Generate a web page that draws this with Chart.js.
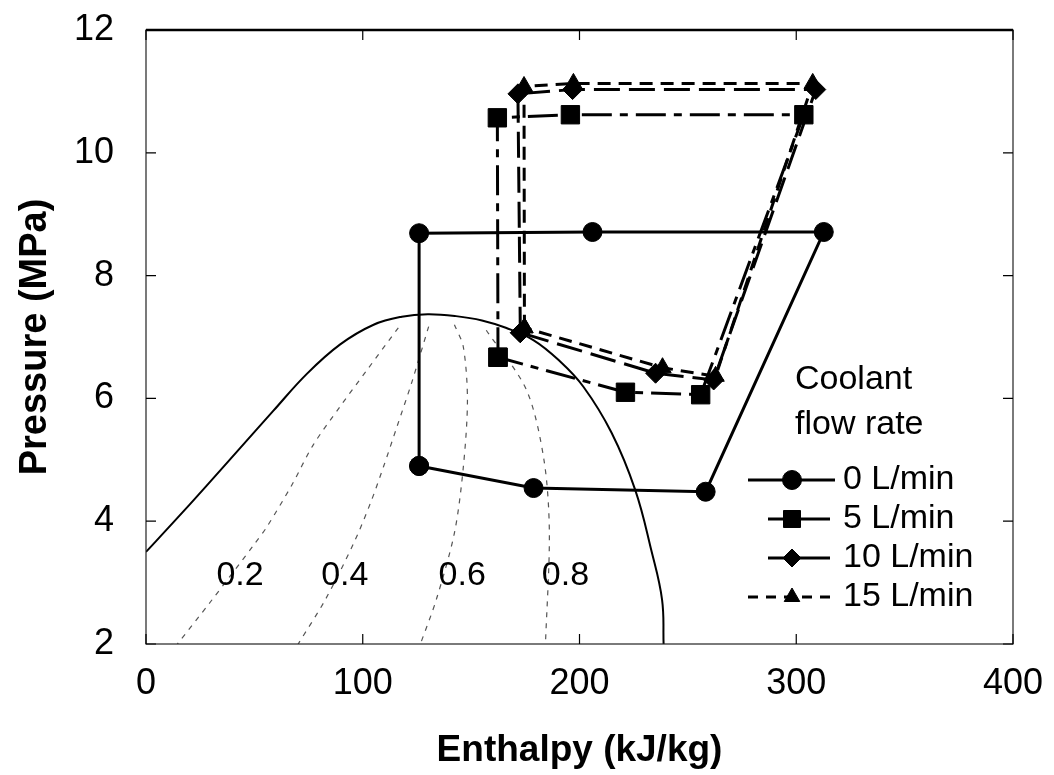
<!DOCTYPE html>
<html lang="en">
<head>
<meta charset="UTF-8">
<title>Pressure - Enthalpy cycle</title>
<script src="https://cdn.jsdelivr.net/npm/chart.js"></script>
<style>
  html, body { margin: 0; padding: 0; background: #fff; }
  #wrap { width: 1054px; height: 775px; }
</style>
</head>
<body>
<div id="wrap"><canvas id="chart"></canvas></div>
<script>
// cycle points: enthalpy (kJ/kg) and pressure (MPa), loop closed back on the first point
const h0 = [126, 126, 206, 312.7, 258.2, 178.8, 126];
const p0 = [4.90, 8.69, 8.71, 8.71, 4.48, 4.54, 4.90];
const h5 = [162.4, 162.1, 195.8, 303.5, 255.9, 221.2, 162.4];
const p5 = [6.67, 10.57, 10.62, 10.62, 6.06, 6.10, 6.67];
const h10 = [172.7, 171.6, 196.8, 309, 261.9, 235.1, 172.7];
const p10 = [7.07, 10.96, 11.03, 11.03, 6.30, 6.41, 7.07];
const h15 = [174.6, 174.4, 197.2, 307.6, 262.8, 238.3, 174.6];
const p15 = [7.15, 11.08, 11.13, 11.13, 6.36, 6.50, 7.15];

// saturation dome
const domeH = [0, 12.6, 28, 43.4, 58.8, 74.2, 89.6, 105, 118, 130, 143, 155, 166, 178.7, 190.5, 201.8, 214.8, 225.7, 233.1, 238.1, 238.8];
const domeP = [3.5, 3.98, 4.58, 5.19, 5.8, 6.4, 6.88, 7.2, 7.33, 7.37, 7.34, 7.27, 7.15, 6.95, 6.62, 6.19, 5.44, 4.51, 3.53, 2.72, 2.0];

// constant quality lines
const q2H = [116.4, 101.9, 89.6, 77.1, 67.3, 55.8, 50.3, 29.6, 14.5];
const q2P = [7.15, 6.46, 5.87, 5.24, 4.59, 3.91, 3.64, 2.68, 2.0];
const q4H = [130.4, 122.7, 115.8, 109.6, 103.5, 95.8, 82.7, 70.2];
const q4P = [7.17, 6.27, 5.54, 4.89, 4.29, 3.64, 2.72, 2.0];
const q6H = [142.3, 146.4, 148.3, 146.4, 142.3, 133.9, 126.6];
const q6P = [7.2, 6.84, 5.97, 4.88, 3.81, 2.72, 2.0];
const q8H = [157, 175.5, 183.6, 186.1, 184.3];
const q8P = [7.11, 6.14, 5.0, 3.81, 2.0];

const qualityLabels = ['0.2', '0.4', '0.6', '0.8'];
const qualityLabelH = [43.4, 91.7, 145.9, 193.5];
const qualityLabelP = 3.12;

const seriesLabels = ['0 L/min', '5 L/min', '10 L/min', '15 L/min'];
const xTicks = [0, 100, 200, 300, 400];
const yTicks = [2, 4, 6, 8, 10, 12];

const FONT = "'Liberation Sans', Arial, sans-serif";
const pts = (hs, ps) => hs.map((h, i) => ({ x: h, y: ps[i] }));

function cycle(label, hs, ps, style, radius, dash) {
    return {
        label: label,
        data: pts(hs, ps),
        showLine: true,
        borderColor: '#000',
        backgroundColor: '#000',
        borderWidth: 3,
        borderDash: dash,
        pointStyle: style,
        pointRadius: radius,
        pointBorderWidth: 1,
        tension: 0
    };
}

function thin(hs, ps, dash, width, color, tension) {
    return {
        label: '',
        data: pts(hs, ps),
        showLine: true,
        borderColor: color,
        borderWidth: width,
        borderDash: dash,
        pointRadius: 0,
        tension: tension
    };
}

const datasets = [
    cycle(seriesLabels[0], h0, p0, 'circle', 9.5, []),
    cycle(seriesLabels[1], h5, p5, 'rect', 13, [30, 8, 8, 8]),
    cycle(seriesLabels[2], h10, p10, 'rectRot', 10, [26, 9]),
    cycle(seriesLabels[3], h15, p15, 'triangle', 10, [13, 8]),
    thin(domeH, domeP, [], 2, '#000', 0.4),
    thin(q2H, q2P, [5, 6], 1.2, '#555', 0.3),
    thin(q4H, q4P, [5, 6], 1.2, '#555', 0.3),
    thin(q6H, q6P, [5, 6], 1.2, '#555', 0.3),
    thin(q8H, q8P, [5, 6], 1.2, '#555', 0.3)
];

const decor = {
    id: 'decor',
    afterDatasetsDraw(chart) {
        const { ctx, chartArea: a, scales: { x, y } } = chart;
        ctx.save();
        ctx.setLineDash([]);
        ctx.strokeStyle = '#222';
        ctx.lineWidth = 1.2;
        ctx.strokeRect(a.left, a.top, a.right - a.left, a.bottom - a.top);
        ctx.strokeStyle = '#000';
        ctx.lineWidth = 2.5;
        ctx.beginPath();
        ctx.moveTo(a.left, a.top); ctx.lineTo(a.right, a.top);
        ctx.stroke();

        // tick marks point into the plot on all four sides
        ctx.lineWidth = 1.2;
        ctx.beginPath();
        xTicks.forEach(v => {
            const px = x.getPixelForValue(v);
            ctx.moveTo(px, a.bottom); ctx.lineTo(px, a.bottom - 10);
            ctx.moveTo(px, a.top); ctx.lineTo(px, a.top + 10);
        });
        yTicks.forEach(v => {
            const py = y.getPixelForValue(v);
            ctx.moveTo(a.left, py); ctx.lineTo(a.left + 10, py);
            ctx.moveTo(a.right, py); ctx.lineTo(a.right - 10, py);
        });
        ctx.stroke();

        // quality labels
        ctx.fillStyle = '#000';
        ctx.font = '34px ' + FONT;
        ctx.textAlign = 'center';
        ctx.textBaseline = 'middle';
        qualityLabels.forEach((t, i) => {
            ctx.fillText(t, x.getPixelForValue(qualityLabelH[i]), y.getPixelForValue(qualityLabelP));
        });

        // legend inside the plot
        const lx = a.left, ly = a.top;
        ctx.font = '34px ' + FONT;
        ctx.textAlign = 'left';
        ctx.fillText('Coolant', lx + 649, ly + 350);
        ctx.fillText('flow rate', lx + 649, ly + 395);
        const spans = [[602, 689], [622, 684], [622, 684], [602, 689]];
        for (let i = 0; i < 4; i++) {
            const ds = chart.data.datasets[i];
            const yy = ly + 450 + 39 * i;
            ctx.strokeStyle = '#000';
            ctx.lineWidth = 3;
            ctx.setLineDash(i === 3 ? [10, 8] : []);
            ctx.beginPath();
            ctx.moveTo(lx + spans[i][0], yy);
            ctx.lineTo(lx + spans[i][1], yy);
            ctx.stroke();
            ctx.setLineDash([]);
            ctx.lineWidth = 1;
            ctx.fillStyle = '#000';
            Chart.helpers.drawPoint(ctx, {
                pointStyle: ds.pointStyle,
                radius: i === 0 ? 9.5 : (i === 1 ? 12 : 9),
                rotation: 0,
                borderWidth: 1
            }, lx + 646, yy);
            ctx.fillText(ds.label, lx + 697, yy);
        }
        ctx.restore();
    }
};

new Chart(document.getElementById('chart'), {
    type: 'scatter',
    data: { datasets: datasets },
    options: {
        responsive: true,
        maintainAspectRatio: false,
        animation: false,
        devicePixelRatio: 1,
        layout: { padding: { top: 30, right: 41, left: 0, bottom: 0 } },
        plugins: { legend: { display: false }, tooltip: { enabled: false } },
        scales: {
            x: {
                type: 'linear',
                min: 0,
                max: 400,
                afterFit: s => { s.height = 131; s.paddingLeft = 0; s.paddingRight = 0; },
                afterBuildTicks: s => { s.ticks = xTicks.map(v => ({ value: v })); },
                grid: { display: false },
                border: { display: false },
                ticks: {
                    color: '#000',
                    font: { family: FONT, size: 36 },
                    padding: 10,
                    maxRotation: 0,
                    autoSkip: false
                },
                title: {
                    display: true,
                    text: 'Enthalpy (kJ/kg)',
                    color: '#000',
                    font: { family: FONT, size: 37, weight: 'bold' },
                    padding: { top: 0, bottom: 2 }
                }
            },
            y: {
                type: 'linear',
                min: 2,
                max: 12,
                afterFit: s => { s.width = 146; s.paddingTop = 0; s.paddingBottom = 0; },
                afterBuildTicks: s => { s.ticks = yTicks.map(v => ({ value: v })); },
                grid: { display: false },
                border: { display: false },
                ticks: {
                    color: '#000',
                    font: { family: FONT, size: 36 },
                    padding: 24
                },
                title: {
                    display: true,
                    text: 'Pressure (MPa)',
                    color: '#000',
                    font: { family: FONT, size: 38, weight: 'bold' },
                    padding: { top: 13, bottom: 0 }
                }
            }
        }
    },
    plugins: [decor]
});
</script>
</body>
</html>
